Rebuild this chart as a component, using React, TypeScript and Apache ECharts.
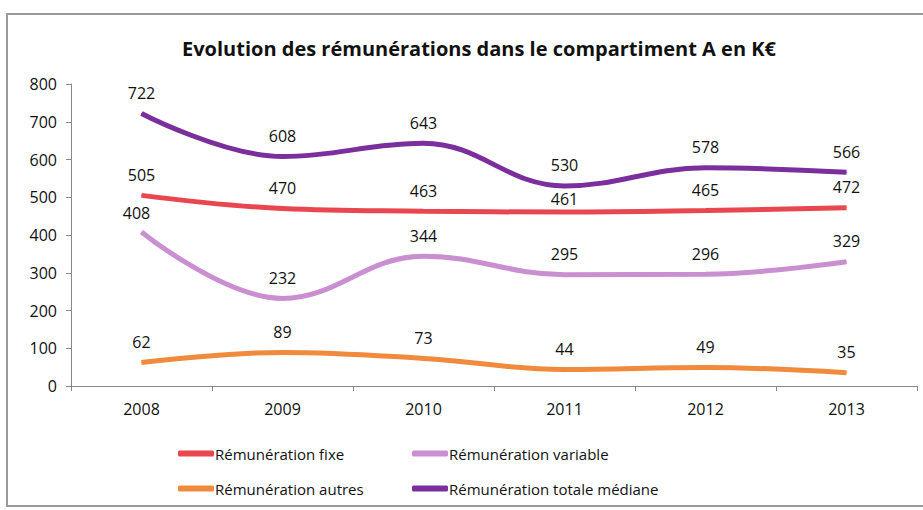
import React, { useEffect, useRef } from "react";
import * as echarts from "echarts";

const years = ["2008", "2009", "2010", "2011", "2012", "2013"];
const fixe = [505, 470, 463, 461, 465, 472];
const variable = [408, 232, 344, 295, 296, 329];
const autres = [62, 89, 73, 44, 49, 35];
const totale = [722, 608, 643, 530, 578, 566];

const names = [
  "Rémunération fixe",
  "Rémunération variable",
  "Rémunération autres",
  "Rémunération totale médiane",
];
const colors = ["#e8474f", "#c98fd0", "#f08a3c", "#7a2f9c"];

const FONT = "'Open Sans', sans-serif";

export default function App() {
  const ref = useRef<HTMLDivElement>(null);
  useEffect(() => {
    if (!ref.current) return;
    const chart = echarts.init(ref.current, null, { renderer: "svg" });
    const mk = (si: number, data: number[]) => ({
      name: names[si],
      type: "line",
      data: data.map((v, i) =>
        si === 0 && i === 3
          ? { value: v, label: { offset: [0, 8] } }
          : si === 1 && i === 0
          ? { value: v, label: { offset: [-5, 2] } }
          : v
      ),
      smooth: 0.4,
      symbol: "circle",
      symbolSize: 1,
      showSymbol: true,
      lineStyle: { width: 5, color: colors[si] },
      itemStyle: { color: colors[si] },
      label: {
        show: true,
        position: "top",
        distance: 12,
        color: "#111",
        fontSize: 16,
        fontFamily: FONT,
      },
    });
    const legendPos = [
      { left: 178, top: 446 },
      { left: 412, top: 446 },
      { left: 178, top: 481 },
      { left: 412, top: 481 },
    ];
    chart.setOption({
      animation: false,
      backgroundColor: "#fff",
      title: {
        text: "Evolution des rémunérations dans le compartiment A en K€",
        left: 474,
        textAlign: "center",
        top: 33,
        textStyle: { fontSize: 20, fontWeight: "bold", color: "#111", fontFamily: FONT },
      },
      graphic: [
        {
          type: "rect",
          shape: { x: 7, y: 14, width: 930, height: 492 },
          style: { fill: "none", stroke: "#9a9a9a", lineWidth: 2 },
          silent: true,
        },
      ],
      legend: names.map((n, i) => ({
        left: legendPos[i].left,
        top: legendPos[i].top,
        padding: 0,
        itemWidth: 36,
        itemHeight: 6,
        icon: "roundRect",
        data: [{ name: n, itemStyle: { color: colors[i], opacity: 1 } }],
        textStyle: {
          fontSize: 15,
          color: "#111",
          fontFamily: FONT,
          padding: [0, 0, 0, -4],
        },
      })),
      grid: { left: 71, right: 6, top: 84, bottom: 124, containLabel: false },
      xAxis: {
        type: "category",
        data: years,
        boundaryGap: true,
        axisLine: { lineStyle: { color: "#888", width: 1 } },
        axisTick: { show: true, length: 5, lineStyle: { color: "#888" } },
        axisLabel: { color: "#111", fontSize: 16, fontFamily: FONT, margin: 15 },
      },
      yAxis: {
        type: "value",
        min: 0,
        max: 800,
        interval: 100,
        splitLine: { show: false },
        axisLine: { show: true, lineStyle: { color: "#888", width: 1 } },
        axisTick: { show: true, length: 5, lineStyle: { color: "#888" } },
        axisLabel: { color: "#111", fontSize: 16, fontFamily: FONT, margin: 14 },
      },
      series: [fixe, variable, autres, totale].map((d, i) => mk(i, d)),
    });
    return () => chart.dispose();
  }, []);
  return <div ref={ref} style={{ width: 923, height: 510, position: "absolute", left: 0, top: 0 }} />;
}
